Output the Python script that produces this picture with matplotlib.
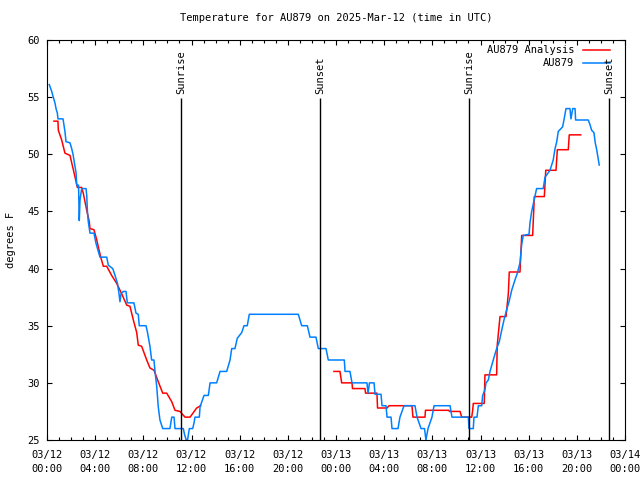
import numpy as np
import matplotlib
matplotlib.use('Agg')
import matplotlib.pyplot as plt
from matplotlib.ticker import MultipleLocator

plt.rcParams['font.family'] = ['DejaVu Sans Mono']

# hours since 03/12 00:00 UTC, temperature (F)
obs_hours = [0.19, 0.39, 0.52, 0.66, 0.75, 0.86, 0.91, 1.33, 1.49, 1.58, 1.91, 2.05, 2.16, 2.41, 2.47,
             2.62, 2.68, 2.74, 2.88, 3.24, 3.30, 3.36, 3.43, 3.57, 3.90, 4.07, 4.40, 4.96, 5.09, 5.46,
             5.65, 5.85, 5.98, 6.06, 6.15, 6.34, 6.56, 6.67, 7.22, 7.39, 7.58, 7.66, 8.22, 8.33, 8.55,
             8.69, 8.88, 8.97, 9.11, 9.24, 9.38, 9.61, 10.21, 10.36, 10.55, 10.63, 11.32, 11.42, 11.56,
             11.67, 11.82, 12.10, 12.21, 12.29, 12.65, 12.71, 13.04, 13.40, 13.54, 14.09, 14.37, 14.92,
             15.20, 15.34, 15.61, 15.80, 16.17, 16.36, 16.63, 16.80, 20.87, 21.15, 21.62, 21.84, 22.34,
             22.53, 23.17, 23.36, 24.69, 24.75, 25.16, 25.33, 26.57, 26.66, 26.78, 27.16, 27.24, 27.74,
             27.82, 28.15, 28.24, 28.57, 28.65, 29.15, 29.31, 29.65, 30.56, 30.73, 31.06, 31.35, 31.47,
             31.64, 31.97, 32.14, 33.47, 33.63, 34.99, 35.04, 35.40, 35.46, 35.71, 35.82, 36.10, 36.18,
             36.37, 36.46, 36.65, 36.79, 37.06, 37.34, 37.56, 37.76, 37.95, 38.17, 38.37, 38.59, 38.86,
             39.06, 39.28, 39.42, 39.55, 40.03, 40.11, 40.25, 40.52, 40.66, 41.21, 41.36, 41.77, 42.04,
             42.19, 42.33, 42.46, 42.82, 42.93, 43.10, 43.43, 43.51, 43.66, 43.85, 43.90, 44.95, 45.09,
             45.23, 45.42, 45.53, 45.65, 45.78, 45.86]
obs_temps = [56.1, 55.5, 55.0, 54.5, 54.0, 53.6, 53.1, 53.1, 52.0, 51.1, 51.0, 50.5, 50.0, 48.4, 47.3,
             47.3, 44.2, 46.0, 47.0, 47.0, 46.4, 44.9, 44.1, 43.1, 43.1, 42.2, 41.0, 41.0, 40.3, 40.0,
             39.4, 38.7, 37.8, 37.1, 37.8, 38.0, 38.0, 37.0, 37.0, 36.1, 36.0, 35.0, 35.0, 34.5, 33.2,
             32.0, 32.0, 31.0, 29.7, 27.9, 26.75, 26.0, 26.0, 27.0, 27.0, 26.0, 26.0, 25.5, 25.0,
             25.0, 26.0, 26.0, 26.5, 27.0, 27.0, 27.9, 28.9, 28.9, 30.0, 30.0, 31.0, 31.0,
             32.0, 33.0, 33.0, 33.9, 34.4, 35.0, 35.0, 36.0, 36.0, 35.0, 35.0, 34.0, 34.0,
             33.0, 33.0, 32.0, 32.0, 31.0, 31.0, 30.0, 30.0, 29.1, 30.0, 30.0, 29.0, 29.0,
             28.0, 28.0, 27.0, 27.0, 26.0, 26.0, 27.0, 28.0, 28.0, 27.0, 26.0, 26.0, 25.0,
             26.0, 27.0, 28.0, 28.0, 27.0, 27.0, 26.0, 26.0, 27.0, 27.0, 28.0, 28.0, 28.9,
             29.4, 30.0, 30.25, 31.0, 32.0, 33.0, 33.6, 34.6, 35.5, 36.4, 37.1, 38.1, 39.0,
             39.6, 40.5, 42.1, 42.9, 43.0, 44.0, 45.0, 46.3, 47.0, 47.0, 48.0, 48.6, 49.5,
             50.5, 51.1, 52.0, 52.4, 53.0, 54.0, 54.0, 53.1, 54.0, 54.0, 53.0, 53.0, 52.6,
             52.1, 51.9, 51.0, 50.4, 49.6, 49.06]

ana1_hours = [0.58, 0.91, 0.94, 1.22, 1.49, 1.91, 2.33, 2.52, 2.88, 3.01, 3.30, 3.51, 3.57, 3.90, 4.13,
              4.46, 4.68, 4.96, 5.37, 5.79, 6.20, 6.62, 6.89, 7.17, 7.45, 7.58, 7.86, 8.28, 8.55, 8.89,
              9.24, 9.61, 9.94, 10.36, 10.63, 11.04, 11.46, 11.88, 12.43, 12.76]
ana1_temps = [52.9, 52.9, 52.1, 51.25, 50.1, 49.9, 48.0, 47.1, 47.1, 46.6, 45.1, 44.1, 43.5, 43.4, 42.5,
              41.0, 40.2, 40.2, 39.4, 38.7, 37.8, 36.8, 36.7, 35.5, 34.4, 33.3, 33.2, 32.0, 31.3, 31.1,
              30.1, 29.1, 29.1, 28.35, 27.6, 27.5, 27.0, 27.0, 27.8, 28.0]

ana2_hours = [23.83, 24.33, 24.47, 25.33, 25.37, 26.41, 26.45, 27.40, 27.45, 28.24, 28.40, 30.31, 30.39,
              31.39, 31.43, 33.38, 33.42, 34.30, 34.44, 35.27, 35.35, 35.40, 36.31, 36.37, 37.34, 37.39,
              37.62, 38.12, 38.31, 38.39, 39.28, 39.42, 40.33, 40.47, 41.30, 41.42, 42.27, 42.38, 43.29,
              43.37, 44.32]
ana2_temps = [31.0, 31.0, 30.0, 30.0, 29.5, 29.5, 29.1, 29.1, 27.8, 27.8, 28.0, 28.0, 27.0,
              27.0, 27.6, 27.6, 27.5, 27.5, 27.0, 27.0, 27.6, 28.2, 28.2, 30.7, 30.7, 33.3,
              35.8, 35.8, 37.8, 39.7, 39.7, 42.9, 42.9, 46.3, 46.3, 48.6, 48.6, 50.4, 50.4,
              51.7, 51.7]

sun_hours = [11.13, 22.67, 35.05, 46.68]
sun_labels = ['Sunrise', 'Sunset', 'Sunrise', 'Sunset']

tick_hours = list(range(0, 49, 4))
tick_labels = ['03/12\n00:00', '03/12\n04:00', '03/12\n08:00', '03/12\n12:00', '03/12\n16:00',
               '03/12\n20:00', '03/13\n00:00', '03/13\n04:00', '03/13\n08:00', '03/13\n12:00',
               '03/13\n16:00', '03/13\n20:00', '03/14\n00:00']

fig = plt.figure(figsize=(6.4, 4.8), dpi=100)
ax = fig.add_axes([47 / 640, 40 / 480, 578 / 640, 400 / 480])

red = '#ff0000'
blue = '#0080ff'
ax.plot(ana1_hours, ana1_temps, color=red, lw=1.1)
ax.plot(ana2_hours, ana2_temps, color=red, lw=1.1)
ax.plot(obs_hours, obs_temps, color=blue, lw=1.1)

for h, lab in zip(sun_hours, sun_labels):
    ax.vlines(h, 25, 54.9, color='black', lw=1)
    ax.text(h, 55.3, lab, rotation=90, ha='center', va='bottom', fontsize=7.5)

ax.set_xlim(0, 48)
ax.set_ylim(25, 60)
ax.set_xticks(tick_hours)
ax.set_xticklabels(tick_labels, fontsize=7.5, linespacing=1.5)
ax.xaxis.set_minor_locator(MultipleLocator(1))
ax.set_yticks(range(25, 61, 5))
ax.tick_params(axis='y', labelsize=7.5, pad=5)
ax.tick_params(which='major', direction='in', length=3.5, top=True, right=True, width=0.8)
ax.tick_params(which='minor', direction='in', length=2, top=True, right=True, width=0.8)
ax.tick_params(axis='x', pad=7)
ax.set_ylabel('degrees F', fontsize=7.5, labelpad=8)
ax.set_title('Temperature for AU879 on 2025-Mar-12 (time in UTC)', fontsize=7.5, pad=14)

# gnuplot-style legend: right-aligned text, sample line on right
ax.text(0.912, 0.975, 'AU879 Analysis', transform=ax.transAxes, ha='right', va='center', fontsize=7.5)
ax.plot([0.927, 0.974], [0.975, 0.975], transform=ax.transAxes, color=red, lw=1.1)
ax.text(0.912, 0.9425, 'AU879', transform=ax.transAxes, ha='right', va='center', fontsize=7.5)
ax.plot([0.927, 0.974], [0.9425, 0.9425], transform=ax.transAxes, color=blue, lw=1.1)

fig.savefig('out.png', dpi=100)
